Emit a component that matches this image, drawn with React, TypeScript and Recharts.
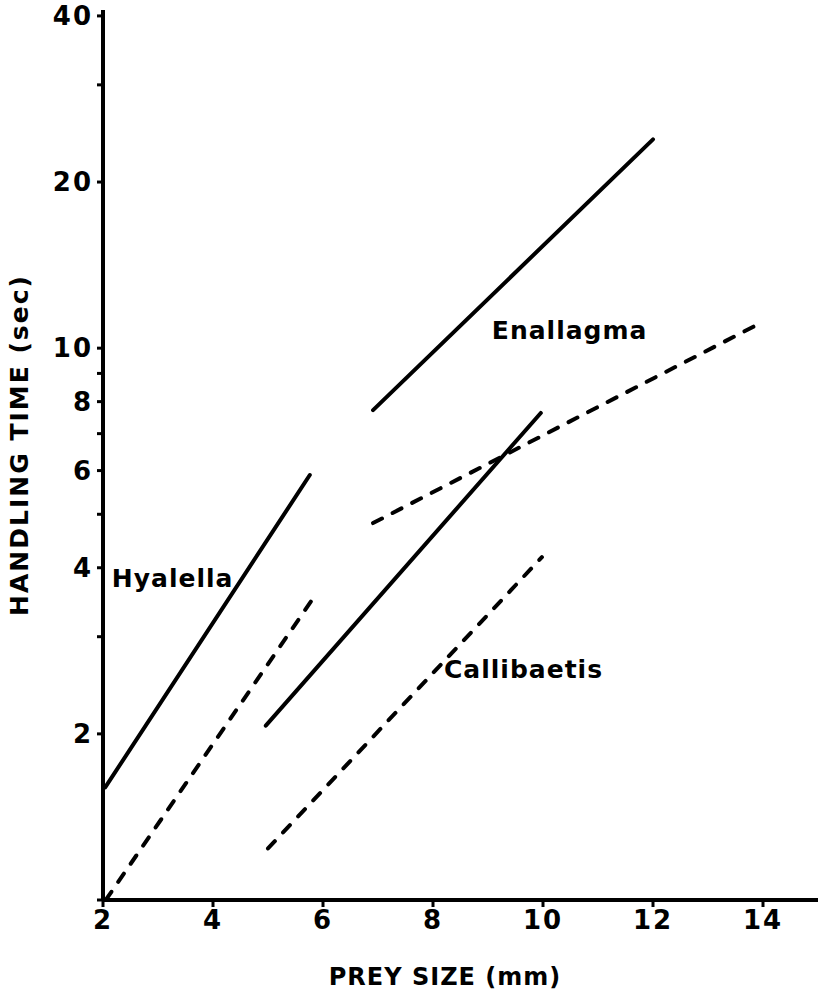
import React from 'react';
import { LineChart, Line, XAxis, YAxis, ReferenceDot, Label } from 'recharts';

const xTicks = [2, 4, 6, 8, 10, 12, 14];
const yTicks = [1, 2, 3, 4, 5, 6, 7, 8, 9, 10, 20, 30, 40];
const yLabeled = [2, 4, 6, 8, 10, 20, 40];

const hyalellaSolid = [
  { x: 2.04, y: 1.6 },
  { x: 5.76, y: 5.89 },
];
const hyalellaDashed = [
  { x: 2.05, y: 1.0 },
  { x: 5.82, y: 3.52 },
];
const callibaetisSolid = [
  { x: 4.96, y: 2.07 },
  { x: 9.96, y: 7.63 },
];
const callibaetisDashed = [
  { x: 5.0, y: 1.24 },
  { x: 9.98, y: 4.18 },
];
const enallagmaSolid = [
  { x: 6.91, y: 7.72 },
  { x: 12.0, y: 23.9 },
];
const enallagmaDashed = [
  { x: 6.91, y: 4.82 },
  { x: 13.95, y: 11.1 },
];

const speciesLabels = [
  { name: 'Hyalella', x: 2.16, y: 3.83 },
  { name: 'Enallagma', x: 9.07, y: 10.78 },
  { name: 'Callibaetis', x: 8.2, y: 2.62 },
];

const FONT = '"DejaVu Sans", "Liberation Sans", Arial, sans-serif';

const tickStyle = {
  fill: '#000',
  fontSize: 26,
  fontWeight: 'bold',
  fontFamily: FONT,
  letterSpacing: 2,
};

const lineCommon = {
  type: 'linear' as const,
  dataKey: 'y',
  stroke: '#000',
  strokeWidth: 4,
  dot: false,
  activeDot: false,
  isAnimationActive: false,
  strokeLinecap: 'round' as const,
};

export default function App() {
  return (
    <div style={{ position: 'absolute', left: 0, top: 0, background: '#fff' }}>
      <LineChart width={820} height={999} margin={{ top: 10, right: 2, bottom: 0, left: 0 }}>
        <XAxis
          type="number"
          dataKey="x"
          domain={[2, 15]}
          ticks={xTicks}
          allowDataOverflow
          height={99}
          axisLine={{ stroke: '#000', strokeWidth: 4 }}
          tickLine={{ stroke: '#000', strokeWidth: 3 }}
          tickSize={7}
          tickMargin={4}
          tick={tickStyle}
        >
          <Label
            content={() => (
              <text
                x={445}
                y={985}
                textAnchor="middle"
                fontFamily={FONT}
                fontWeight="bold"
                fontSize={24}
                letterSpacing={1}
                fill="#000"
              >
                PREY SIZE (mm)
              </text>
            )}
          />
        </XAxis>
        <YAxis
          type="number"
          scale="log"
          domain={[1, 41]}
          ticks={yTicks}
          allowDataOverflow
          width={103}
          axisLine={{ stroke: '#000', strokeWidth: 4 }}
          tickLine={{ stroke: '#000', strokeWidth: 3 }}
          tickSize={6}
          tickMargin={4}
          tick={tickStyle}
          tickFormatter={(v: number) => (yLabeled.includes(v) ? String(v) : '')}
          interval={0}
        >
          <Label
            content={() => (
              <text
                x={28}
                y={445}
                transform="rotate(-90 28 445)"
                textAnchor="middle"
                fontFamily={FONT}
                fontWeight="bold"
                fontSize={25}
                letterSpacing={2}
                fill="#000"
              >
                HANDLING TIME (sec)
              </text>
            )}
          />
        </YAxis>
        <Line {...lineCommon} data={hyalellaSolid} />
        <Line {...lineCommon} data={hyalellaDashed} strokeDasharray="10 12" />
        <Line {...lineCommon} data={callibaetisSolid} />
        <Line {...lineCommon} data={callibaetisDashed} strokeDasharray="10 12" />
        <Line {...lineCommon} data={enallagmaSolid} />
        <Line {...lineCommon} data={enallagmaDashed} strokeDasharray="10 12" />
        {speciesLabels.map((s) => (
          <ReferenceDot
            key={s.name}
            x={s.x}
            y={s.y}
            r={0}
            stroke="none"
            fill="none"
            label={{
              value: s.name,
              position: 'right',
              offset: 0,
              fill: '#000',
              fontSize: 25,
              fontWeight: 'bold',
              fontFamily: FONT,
              letterSpacing: 1,
            }}
          />
        ))}
      </LineChart>
    </div>
  );
}
